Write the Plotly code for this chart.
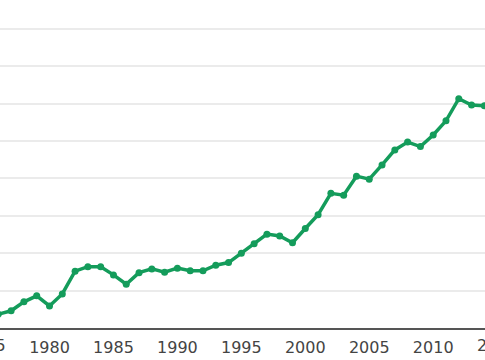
import plotly.graph_objects as go

years = list(range(1976, 2015))
values = [3.7, 4.6, 7.0, 8.6, 5.9, 9.1, 15.2, 16.4, 16.4, 14.2,
          11.7, 14.8, 15.8, 14.9, 16.0, 15.3, 15.3, 16.8, 17.5, 20.0,
          22.5, 25.1, 24.6, 22.8, 26.6, 30.3, 36.0, 35.5, 40.6, 39.8,
          43.6, 47.6, 49.7, 48.5, 51.6, 55.4, 61.3, 59.6, 59.4]
tick_years = [1980, 1985, 1990, 1995, 2000, 2005, 2010]
edge_tick_years = [1975, 2015]

x0, x1 = 1976.13, 2014.05

fig = go.Figure(go.Scatter(
    x=years, y=values, mode="lines+markers",
    line=dict(color="#149c5b", width=3.5),
    marker=dict(color="#149c5b", size=7),
    hoverinfo="skip",
))

for y in edge_tick_years:
    fig.add_annotation(
        x=(y - x0) / (x1 - x0), xref="paper", y=0, yref="paper",
        yanchor="top", xanchor="center", yshift=-6,
        text=str(y), showarrow=False,
        font=dict(family="DejaVu Sans", size=16, color="#444"),
    )

fig.update_layout(
    width=485, height=360,
    margin=dict(l=0, r=0, t=0, b=32, autoexpand=False),
    paper_bgcolor="white", plot_bgcolor="white",
    showlegend=False,
    font=dict(family="DejaVu Sans", size=16, color="#444"),
    xaxis=dict(range=[x0, x1], tickvals=tick_years,
               ticktext=[str(y) for y in tick_years],
               showgrid=False, zeroline=False, showline=True,
               linecolor="#555", linewidth=1.5, ticks="", automargin=False,
               ticklabelstandoff=4),
    yaxis=dict(range=[0, 87.7], dtick=10, showticklabels=False,
               showgrid=True, gridcolor="#ebebeb", gridwidth=1.5,
               zeroline=False, showline=False, automargin=False),
)

fig.write_html("out.html", config={"displayModeBar": False},
               post_script="document.body.style.margin='0';document.body.style.overflow='hidden';")
